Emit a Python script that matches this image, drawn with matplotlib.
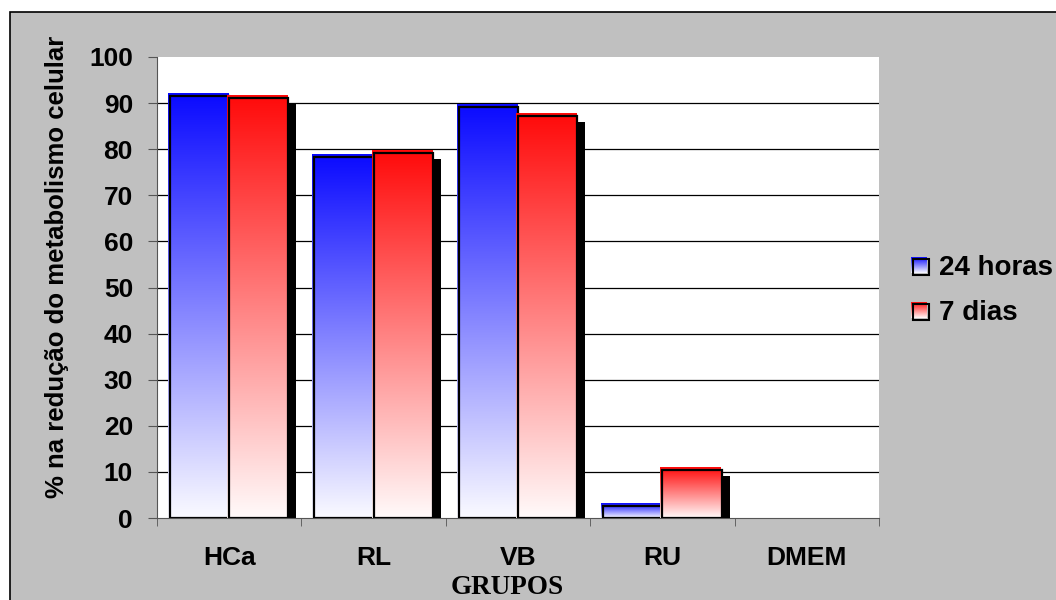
import matplotlib
matplotlib.use('Agg')
import matplotlib.pyplot as plt
import matplotlib.transforms as mtransforms
from matplotlib.patches import Rectangle
import numpy as np

grupos = ['HCa', 'RL', 'VB', 'RU', 'DMEM']
horas_24 = [91.5, 78.2, 89.2, 2.6, 0.0]
dias_7 = [91.2, 79.1, 87.3, 10.4, 0.0]
series = ['24 horas', '7 dias']
cores = [(0.04, 0.04, 1.0), (1.0, 0.04, 0.04)]

plt.rcParams['font.family'] = 'Liberation Sans'
plt.rcParams['font.weight'] = 'bold'

W, H = 1056, 600
fig = plt.figure(figsize=(W / 100, H / 100), dpi=100)
fig.patch.set_facecolor('white')

# grey chart area with black frame
fig.add_artist(Rectangle((10 / W, -0.1), 1.2, 1 - 12 / H + 0.1, transform=fig.transFigure,
                         facecolor='#c0c0c0', edgecolor='black', lw=1.2, zorder=-10))

ax_left, ax_right, ax_top, ax_bottom = 157, 879, 57, 518
ax = fig.add_axes([ax_left / W, 1 - ax_bottom / H, (ax_right - ax_left) / W, (ax_bottom - ax_top) / H])
ax.set_facecolor('white')
ax.set_xlim(-0.5, 4.5)
ax.set_ylim(0, 100)

# data units per pixel, used to let the coloured fill stick out past the outline
ux = 5 / (ax_right - ax_left)
uy = 100 / (ax_bottom - ax_top)


def gradiente(cor, n=256):
    t = np.linspace(0, 1, n)[:, None, None]
    base = np.array([0.98, 0.98, 1.0]) if cor[2] > cor[0] else np.array([1.0, 0.98, 0.98])
    return base * (1 - t) + np.array(cor) * t


desl_sombra = mtransforms.ScaledTranslation(8 / 100, -6 / 100, fig.dpi_scale_trans)

largura = 0.41
x = np.arange(len(grupos))
z = 1
for i in range(len(grupos)):
    for k, valores in enumerate([horas_24, dias_7]):
        v = valores[i]
        if v <= 0:
            continue
        x0 = x[i] - largura + k * largura
        # shadow
        ax.add_patch(Rectangle((x0, 0), largura, v, facecolor='black', edgecolor='none',
                               transform=ax.transData + desl_sombra, zorder=z))
        # gradient fill, a little larger to the top and left
        ax.imshow(gradiente(cores[k]), extent=[x0 - 2 * ux, x0 + largura - 0.5 * ux, 0, v + 2.5 * uy],
                  origin='lower', aspect='auto', interpolation='bilinear', zorder=z + 0.1)
        # outline
        ax.add_patch(Rectangle((x0, 0), largura, v, fill=False, edgecolor='black', lw=1.6,
                               zorder=z + 0.2))
        z += 1

for yy in range(10, 100, 10):
    ax.axhline(yy, color='black', lw=0.9, zorder=0.5)

ax.set_xlim(-0.5, 4.5)
ax.set_ylim(0, 100)
ax.set_yticks(range(0, 101, 10))
ax.set_xticks(x)
ax.set_xticklabels(grupos)
ax.set_xticks(np.arange(-0.5, 5, 1), minor=True)
ax.tick_params(axis='x', which='major', length=0, pad=20, labelsize=19)
ax.tick_params(axis='x', which='minor', length=6, direction='out', color='#555555')
ax.tick_params(axis='y', length=6.5, direction='out', pad=10.8, labelsize=19, color='#555555')
for s in ['top', 'right']:
    ax.spines[s].set_visible(False)
for s in ['left', 'bottom']:
    ax.spines[s].set_color('#555555')

fig.text(57 / W, 1 - 267 / H, '% na redução do metabolismo celular', rotation=90,
         ha='center', va='center', fontsize=18.5)
fig.text(507 / W, 1 - 594 / H, 'GRUPOS', family='Liberation Serif', ha='center',
         va='baseline', fontsize=19.5)

# legend
for k, nome in enumerate(series):
    topo = 257 + k * 45
    sw = fig.add_axes([911 / W, 1 - (topo + 16) / H, 16 / W, 16 / H])
    sw.imshow(gradiente(cores[k]), origin='lower', aspect='auto', extent=[0, 1, 0, 1])
    sw.axis('off')
    fig.add_artist(Rectangle((913 / W, 1 - (topo + 18) / H), 16 / W, 16 / H,
                             transform=fig.transFigure, fill=False, edgecolor='black', lw=1.5,
                             zorder=5))
    fig.text(939 / W, 1 - (topo + 18) / H, nome, ha='left', va='baseline', fontsize=20)

fig.savefig('out.png', dpi=100)
